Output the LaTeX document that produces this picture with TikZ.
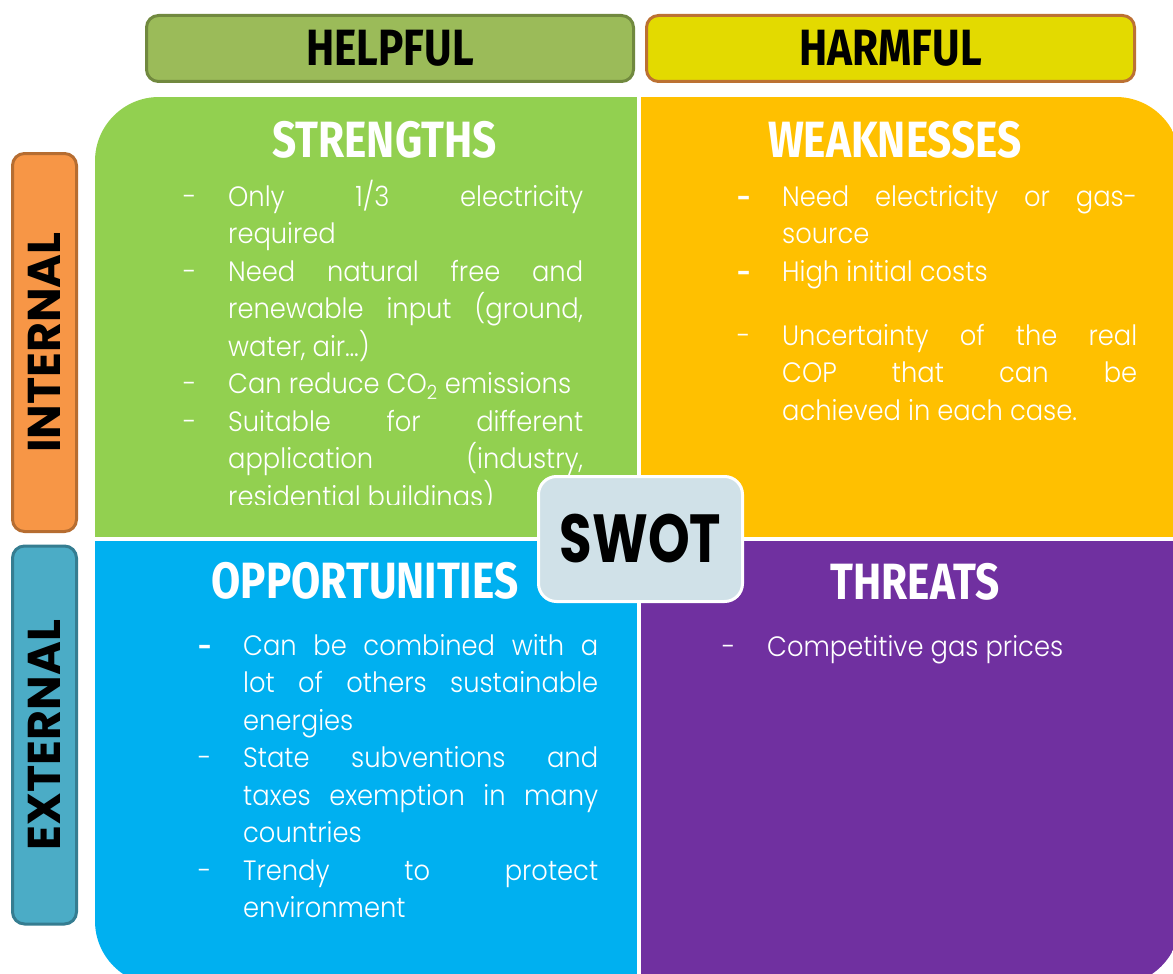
\documentclass[tikz,border=0pt]{standalone}
\usepackage{fontspec}
\setmainfont{Poppins}
\IfFontExistsTF{Poppins Light}
  {\newfontfamily\bodyfont{Poppins Light}[FakeStretch=0.92]}
  {\newfontfamily\bodyfont{Poppins}[FakeStretch=0.92]}
\newfontfamily\headfont{Fira Sans}[FakeStretch=0.83]
\newfontfamily\swotfont{Poppins}[FakeStretch=0.78]
\newfontfamily\sidefont{Poppins}

\definecolor{helpgreen}{HTML}{9BBB59}
\definecolor{helpline}{HTML}{71893F}
\definecolor{harmyellow}{HTML}{E3DA00}
\definecolor{harmline}{HTML}{BC7133}
\definecolor{intorange}{HTML}{F79646}
\definecolor{intline}{HTML}{B66D31}
\definecolor{extblue}{HTML}{4BACC6}
\definecolor{extline}{HTML}{357D91}
\definecolor{sgreen}{HTML}{92D050}
\definecolor{wyellow}{HTML}{FFC000}
\definecolor{oblue}{HTML}{00B0F0}
\definecolor{tpurple}{HTML}{7030A0}
\definecolor{swotbg}{HTML}{D0E1E8}

\tolerance=10000
\pretolerance=10000
\hbadness=10000

% one bullet line of a quadrant list
\newcommand\swotitem[2][-]{\hangindent=45pt\hangafter=1\noindent\makebox[45pt][l]{#1}#2\par}
\newcommand\boldash{{\sidefont\bfseries\fontsize{24}{24}\selectfont -}}

\begin{document}
\begin{tikzpicture}[x=1pt,y=-1pt,
  tab/.style={draw, line width=3pt, rounded corners=12pt, inner sep=0pt},
  head/.style={font=\headfont\bfseries\fontsize{51}{51}\selectfont, text=white, inner sep=0pt, anchor=base},
  side/.style={tab, rotate=90, minimum width=378pt, minimum height=64pt, font=\sidefont\bfseries\fontsize{46}{46}\selectfont},
  body/.style={font=\bodyfont\fontsize{28}{37.5}\selectfont, text=white, text width=400pt, align=justify, inner sep=0pt, anchor=base west}]
\useasboundingbox (0,0) rectangle (1173,974);
\fill[white] (0,0) rectangle (1173,974);

% top and side tabs
\node[tab, fill=helpgreen, draw=helpline, minimum width=487pt, minimum height=66pt,
  font=\headfont\bfseries\fontsize{51}{51}\selectfont] (helpful) at (390,48.5) {HELPFUL};
\node[tab, fill=harmyellow, draw=harmline, minimum width=488pt, minimum height=66pt,
  font=\headfont\bfseries\fontsize{51}{51}\selectfont] (harmful) at (890.5,48.5) {HARMFUL};
\node[side, fill=intorange, draw=intline] (internal) at (44.5,342.5) {INTERNAL};
\node[side, fill=extblue, draw=extline] (external) at (44.5,735) {EXTERNAL};

% the four quadrants
\begin{scope}
\clip[rounded corners=64pt] (95,97) rectangle (1180,985);
\fill[sgreen] (95,97) rectangle (637,537);
\fill[wyellow] (641,97) rectangle (1180,537);
\fill[oblue] (95,541) rectangle (637,985);
\fill[tpurple] (641,541) rectangle (1180,985);
\end{scope}

\node[head] (strengths) at (384.5,157) {STRENGTHS};
\node[head] (weaknesses) at (895,157) {WEAKNESSES};
\node[head] (opportunities) at (365,598.5) {OPPORTUNITIES};
\node[head] (threats) at (915,599) {THREATS};

\begin{scope}
\clip (95,97) rectangle (637,504);
\node[body] (slist) at (183,206) {%
\swotitem{Only 1/3 electricity\linebreak required}%
\swotitem{Need natural free and\linebreak renewable input (ground,\linebreak water, air\ldots)}%
\swotitem{Can reduce CO\textsubscript{2} emissions}%
\swotitem{Suitable for different\linebreak application (industry,\linebreak residential buildings)}};
\end{scope}

\node[body] (wlist) at (737,206) {%
\swotitem[\boldash]{Need electricity or gas-\linebreak source}%
\swotitem[\boldash]{High initial costs}%
\vspace{26.5pt}%
\swotitem{Uncertainty of the real\linebreak COP that can be\linebreak achieved in each case.}};

\node[body] (olist) at (198,655) {%
\swotitem[\boldash]{Can be combined with a\linebreak lot of others sustainable\linebreak energies}%
\swotitem{State subventions and\linebreak taxes exemption in many\linebreak countries}%
\swotitem{Trendy to protect\linebreak environment}};

\node[body] (tlist) at (722,656) {%
\swotitem{Competitive gas prices}};

% centre badge
\node[draw=white, line width=3pt, fill=swotbg, rounded corners=18pt, minimum width=204pt, minimum height=125pt,
  font=\swotfont\bfseries\fontsize{68}{68}\selectfont] (swot) at (640.5,539) {SWOT};
\end{tikzpicture}
\end{document}
